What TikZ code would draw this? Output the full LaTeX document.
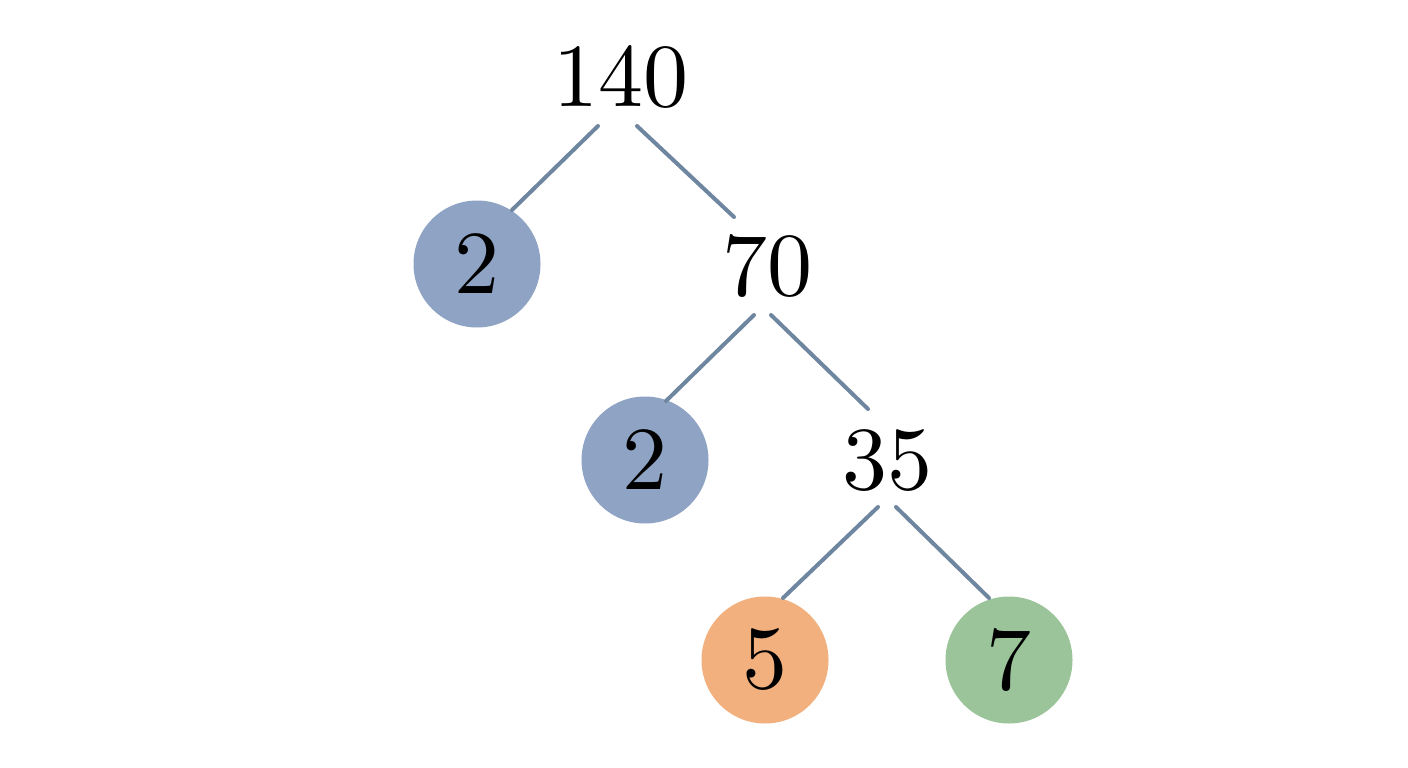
\documentclass[tikz,border=0pt]{standalone}
\usepackage{fontspec}
\newfontfamily\numfont{lmroman10-regular.otf}
\usetikzlibrary{calc}
\definecolor{edgecol}{HTML}{6F86A0}
\definecolor{bluefill}{HTML}{8FA3C4}
\definecolor{orangefill}{HTML}{F2B07E}
\definecolor{greenfill}{HTML}{9CC49B}
\tikzset{
  num/.style={inner sep=0pt, font=\numfont\fontsize{90}{90}\selectfont, text=black},
  ball/.style={num, circle, minimum size=127pt},
  edge/.style={draw=edgecol, line width=4pt, line cap=round}
}
\begin{document}
\begin{tikzpicture}[x=1pt,y=-1pt]
\path[use as bounding box, fill=white] (0,0) rectangle (1408,768);
\node[num] (r) at (621,77) {140};
\node[ball, fill=bluefill] (a) at (477,264) {2};
\node[num] (b) at (767,266) {70};
\node[ball, fill=bluefill] (c) at (645,460) {2};
\node[num] (d) at (887,461) {35};
\node[ball, fill=orangefill] (e) at (765,660) {5};
\node[ball, fill=greenfill] (f) at (1009,660) {7};
\draw[edge] ($(r)+(-23,49)$) -- ($(a)+(35,-54)$);
\draw[edge] ($(r)+(16,49)$) -- ($(b)+(-33,-49)$);
\draw[edge] ($(b)+(-13,49)$) -- ($(c)+(21,-59)$);
\draw[edge] ($(b)+(4,49)$) -- ($(d)+(-19,-52)$);
\draw[edge] ($(d)+(-9,46)$) -- ($(e)+(18,-62)$);
\draw[edge] ($(d)+(9,46)$) -- ($(f)+(-20,-62)$);
\end{tikzpicture}
\end{document}
